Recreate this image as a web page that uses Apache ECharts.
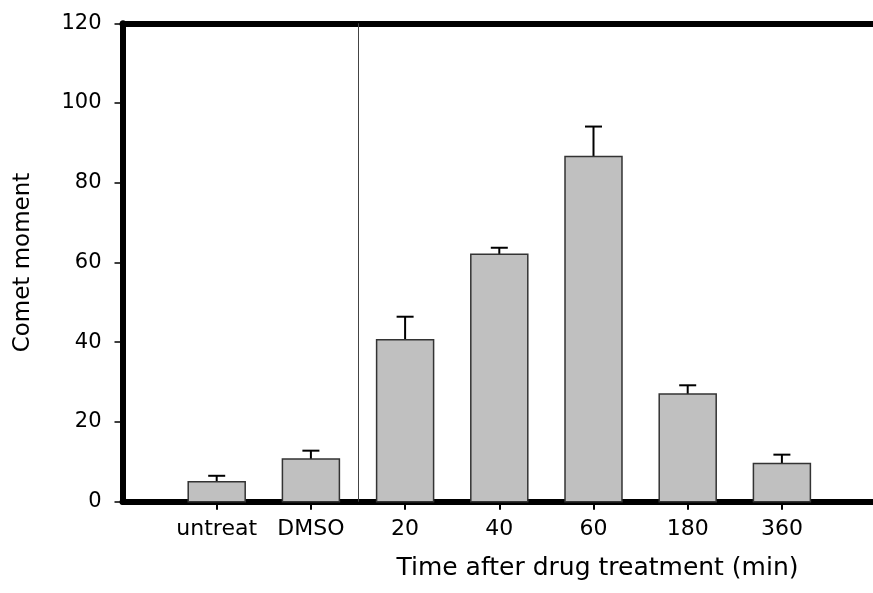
<!DOCTYPE html>
<html>
<head>
<meta charset="utf-8">
<script src="https://cdn.jsdelivr.net/npm/echarts@6/dist/echarts.min.js"></script>
<style>
  html, body { margin: 0; padding: 0; background: #fff; }
  #chart { width: 873px; height: 593px; }
</style>
</head>
<body>
<div id="chart"></div>
<script>
const categories = ['untreat', 'DMSO', '20', '40', '60', '180', '360'];
const means = [5.0, 10.7, 40.6, 62.1, 86.6, 27.0, 9.6];
const errors = [1.5, 2.1, 5.8, 1.6, 7.5, 2.2, 2.2];
const yTicks = [0, 20, 40, 60, 80, 100, 120];
const dividerAt = 2.5; // between control groups and time points

const FONT = 'DejaVu Sans';
const BAR_W = 0.605;   // in x units
const CAP_HALF = 8.5;  // px
const UNIT = 94.2;     // px per category step
const LEFT = 122.5;
const X_MAX = (873 - LEFT) / UNIT; // axis runs off the right edge

const positions = categories.map((_, i) => i + 1);
const barData = means.map((m, i) => [positions[i], m, errors[i]]);

const chart = echarts.init(document.getElementById('chart'), null, { renderer: 'canvas' });

chart.setOption({
  backgroundColor: '#fff',
  animation: false,
  grid: [
    { left: LEFT, right: 0, top: 23.3, bottom: 91.3 },
    // label/tick band: one category per step, centred on 1..7
    { left: LEFT + UNIT / 2, width: UNIT * categories.length, top: 23.3, bottom: 91.3 },
  ],
  xAxis: [{
    type: 'value', min: 0, max: X_MAX,
    axisLine: { show: true, lineStyle: { color: '#000', width: 6 } },
    axisTick: { show: false }, axisLabel: { show: false }, splitLine: { show: false },
  }, {
    // thick frame line along the top
    type: 'value', position: 'top', min: 0, max: X_MAX,
    axisLine: { show: true, lineStyle: { color: '#000', width: 6 } },
    axisTick: { show: false }, axisLabel: { show: false }, splitLine: { show: false },
  }, {
    type: 'category', gridIndex: 1, data: categories, position: 'bottom',
    axisLine: { show: false },
    axisTick: { show: true, interval: 0, alignWithLabel: true, length: 8, lineStyle: { color: '#000', width: 2 } },
    axisLabel: { interval: 0, margin: 17, color: '#000', fontFamily: FONT, fontSize: 22 },
    splitLine: { show: false },
  }],
  yAxis: [{
    type: 'value', min: yTicks[0], max: yTicks[yTicks.length - 1], interval: 20,
    name: 'Comet moment', nameLocation: 'middle', nameRotate: 90, nameGap: 88,
    nameTextStyle: { color: '#000', fontFamily: FONT, fontSize: 23 },
    axisLine: { show: true, lineStyle: { color: '#000', width: 6 } },
    axisTick: { show: true, length: 8, lineStyle: { color: '#000', width: 1.5 } },
    splitLine: { show: false },
    axisLabel: { margin: 21, color: '#000', fontFamily: FONT, fontSize: 21 },
  }, {
    type: 'value', gridIndex: 1, show: false, min: 0, max: 120,
  }],
  graphic: [{
    type: 'text', x: 597.5, y: 568,
    style: { text: 'Time after drug treatment (min)', fill: '#000', font: '25px "DejaVu Sans"', textAlign: 'center', textVerticalAlign: 'middle' },
  }],
  series: [{
    type: 'custom',
    xAxisIndex: 0, yAxisIndex: 0,
    data: barData,
    renderItem: (params, api) => {
      const x = api.value(0), m = api.value(1), e = api.value(2);
      const base = api.coord([x, 0]);
      const top = api.coord([x, m]);
      const cap = api.coord([x, m + e]);
      const w = api.size([BAR_W, 0])[0];
      return {
        type: 'group',
        children: [
          { type: 'line', shape: { x1: top[0], y1: top[1], x2: cap[0], y2: cap[1] }, style: { stroke: '#000', lineWidth: 2 } },
          { type: 'line', shape: { x1: cap[0] - CAP_HALF, y1: cap[1], x2: cap[0] + CAP_HALF, y2: cap[1] }, style: { stroke: '#000', lineWidth: 2 } },
          { type: 'rect', shape: { x: top[0] - w / 2, y: top[1], width: w, height: base[1] - top[1] }, style: { fill: '#c0c0c0', stroke: '#333', lineWidth: 1.5 } },
        ],
      };
    },
    markLine: {
      silent: true, symbol: 'none', label: { show: false },
      lineStyle: { color: '#444', width: 1, type: 'solid' },
      data: [{ xAxis: dividerAt }],
    },
    z: 1,
  }],
});
</script>
</body>
</html>
